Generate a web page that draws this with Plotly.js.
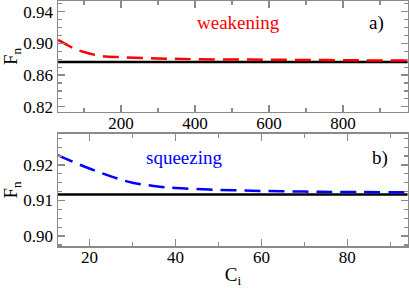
<!DOCTYPE html>
<html><head><meta charset="utf-8">
<script src="https://cdn.plot.ly/plotly-3.0.1.min.js"></script>
<style>html,body{margin:0;padding:0;background:#fff}#chart{width:409px;height:288px}</style>
</head><body><div id="chart"></div>
<script>
// Panel a) weakening
const weakC = [30, 50, 75, 100, 143, 200, 300, 400, 550, 700, 850, 975];
const weakF = [0.9043, 0.8990, 0.8930, 0.8890, 0.8843, 0.8825, 0.8810, 0.8800, 0.8795, 0.8790, 0.8785, 0.8782];
const weakRefC = [30, 975];
const weakRefF = [0.8765, 0.8765];
// Panel b) squeezing
const squeezeC = [12.7, 15, 20, 25, 30, 35, 40, 50, 60, 70, 80, 94];
const squeezeF = [0.9228, 0.9215, 0.9190, 0.9168, 0.9150, 0.9141, 0.9135, 0.9130, 0.9127, 0.9125, 0.9124, 0.9123];
const squeezeRefC = [12.7, 94];
const squeezeRefF = [0.9117, 0.9117];
const topTicks = [200, 400, 600, 800];
const botTicks = [20, 40, 60, 80];

const serif = 'Liberation Serif';
const frame = '#8a8a8a';
function ax(extra) {
  return Object.assign({
    showline: true, linecolor: frame, linewidth: 1.5, mirror: 'allticks',
    ticks: 'inside', ticklen: 7, tickwidth: 1.2, tickcolor: frame,
    showgrid: false, zeroline: false,
    tickfont: {family: serif, size: 17, color: '#000'}
  }, extra);
}
const data = [
  {x: weakRefC, y: weakRefF, xaxis: 'x', yaxis: 'y', mode: 'lines', line: {color: '#000', width: 2.5}},
  {x: weakC, y: weakF, xaxis: 'x', yaxis: 'y', mode: 'lines', line: {color: '#ff0000', width: 2.5, dash: '16px,8px', shape: 'spline'}},
  {x: squeezeRefC, y: squeezeRefF, xaxis: 'x2', yaxis: 'y2', mode: 'lines', line: {color: '#000', width: 2.5}},
  {x: squeezeC, y: squeezeF, xaxis: 'x2', yaxis: 'y2', mode: 'lines', line: {color: '#0000ff', width: 2.5, dash: '16px,8px', shape: 'spline'}}
];
const layout = {
  width: 409, height: 288, showlegend: false,
  font: {family: serif, size: 17, color: '#000'},
  margin: {l: 58, r: 1, t: 1, b: 42},
  paper_bgcolor: '#fff', plot_bgcolor: '#fff',
  xaxis: ax({domain: [0, 1], anchor: 'y', range: [29.5, 976], tickvals: topTicks, ticklabelstandoff: -5,
    minor: {dtick: 100, tick0: 0, ticks: 'inside', ticklen: 4, tickcolor: frame}}),
  yaxis: ax({domain: [0.547, 1], anchor: 'x', range: [0.8134, 0.9534], tickvals: [0.82, 0.86, 0.90, 0.94], tickformat: '.2f',
    minor: {dtick: 0.01, tick0: 0.80, ticks: 'inside', ticklen: 4, tickcolor: frame},
    title: {text: 'F<sub>n</sub>', font: {family: serif, size: 19, color: '#000'}, standoff: 4}}),
  xaxis2: ax({domain: [0, 1], anchor: 'y2', range: [12.7, 94.1], tickvals: botTicks, ticklabelstandoff: -5,
    minor: {dtick: 10, tick0: 0, ticks: 'inside', ticklen: 4, tickcolor: frame},
    title: {text: 'C<sub>i</sub>', font: {family: serif, size: 19, color: '#000'}, standoff: 4}}),
  yaxis2: ax({domain: [0, 0.4584], anchor: 'x2', range: [0.8972, 0.9288], tickvals: [0.90, 0.91, 0.92], tickformat: '.2f',
    minor: {dtick: 0.0025, tick0: 0.90, ticks: 'inside', ticklen: 4, tickcolor: frame},
    title: {text: 'F<sub>n</sub>', font: {family: serif, size: 19, color: '#000'}, standoff: 4}}),
  annotations: [
    {xref: 'x', yref: 'y', x: 518, y: 0.926, text: 'weakening', showarrow: false, font: {family: serif, size: 19, color: '#ff0000'}},
    {xref: 'x', yref: 'y', x: 890, y: 0.926, text: 'a)', showarrow: false, font: {family: serif, size: 19, color: '#000'}},
    {xref: 'x2', yref: 'y2', x: 42, y: 0.9222, text: 'squeezing', showarrow: false, font: {family: serif, size: 19, color: '#0000ff'}},
    {xref: 'x2', yref: 'y2', x: 87.5, y: 0.9221, text: 'b)', showarrow: false, font: {family: serif, size: 19, color: '#000'}}
  ]
};
Plotly.newPlot('chart', data, layout, {staticPlot: true, displayModeBar: false});
</script></body></html>
